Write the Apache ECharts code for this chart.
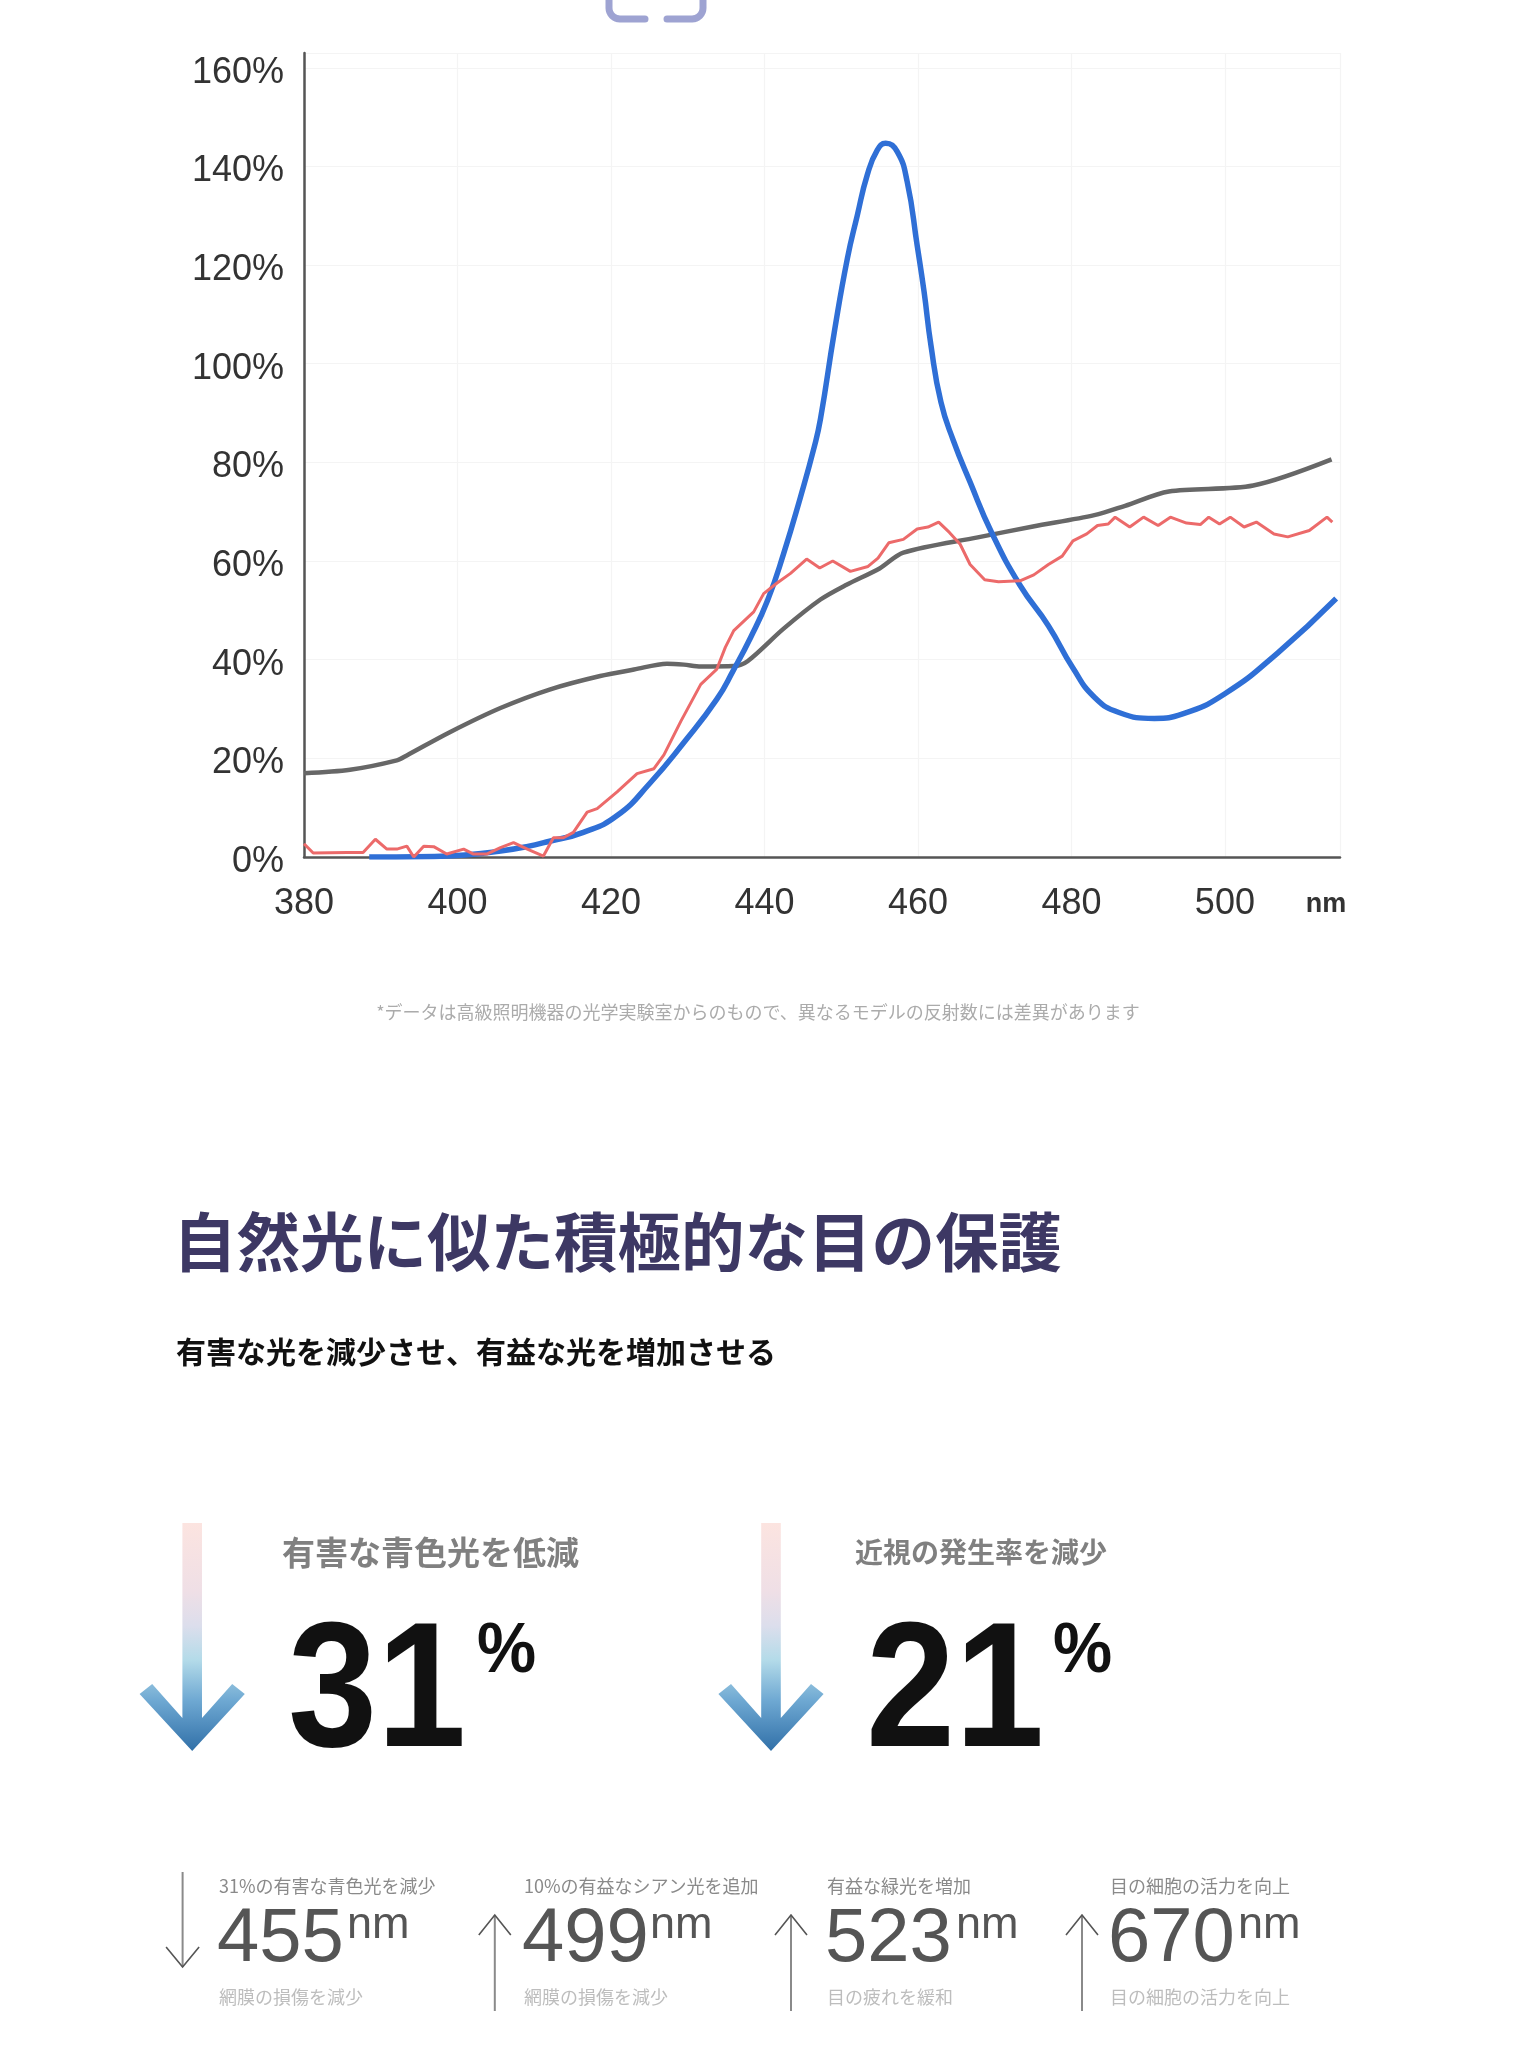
<!DOCTYPE html>
<html>
<head>
<meta charset="utf-8">
<script src="https://cdn.jsdelivr.net/npm/echarts@6/dist/echarts.min.js"></script>
<style>
html,body{margin:0;padding:0;background:#ffffff;}
#c{width:1537px;height:2048px;}
</style>
</head>
<body>
<div id="c"></div>
<script>
// ---------- data ----------
const xTicks = [380, 400, 420, 440, 460, 480, 500];
const xUnit = 'nm';
const yTicks = [0, 20, 40, 60, 80, 100, 120, 140, 160];

const blueCurve = [
  [388.5,0],[392,0],[397,0.1],[401,0.4],[405.6,1.2],[409,2.1],[412,3.2],[416.4,5],[420.8,8.4],
  [425.1,15],[429.5,23.2],[433.8,32],[436,38],[438.2,44.5],[440.4,52],[442.5,61.5],[444.7,73],
  [446.5,83.2],[447.3,88.8],[449.1,106.4],[450.8,121.3],[452.1,130.1],[453.4,138.3],[454.7,143.3],
  [455.8,144.7],[457.3,143],[458.6,136.9],[459.9,124],[460.8,114.6],[461.7,103.7],[463,92.2],
  [464.6,84.5],[466.8,76],[469.6,65.8],[473.3,55.1],[477,46.9],[480.2,38.3],[483,32.4],
  [486.2,29.3],[490.8,28.1],[494.5,29],[500,33.1],[506.9,41.4],[514.5,52.4]
];

const redCurve = [
  [380,2.7],[381.2,0.8],[385.6,0.9],[387.7,0.9],[389.3,3.6],[390.8,1.6],[392.1,1.6],[393.4,2.2],
  [394.3,0],[395.6,2.2],[396.9,2.1],[398.6,0.6],[400.8,1.6],[402.1,0.6],[403.8,0.6],[405.6,1.9],
  [407.3,2.9],[409.1,1.6],[411.2,0.2],[412.5,3.9],[413.8,3.9],[415.1,5],[416.9,9.1],[418.2,9.8],
  [420.8,13.2],[423.4,16.9],[425.6,17.9],[426.9,20.7],[429.1,27.5],[431.7,35],[433.8,38.1],
  [434.9,42.5],[436,45.9],[438.6,49.7],[439.9,53.4],[441.6,55.5],[443.4,57.5],[445.5,60.4],
  [447.2,58.6],[448.9,60],[451.2,57.9],[453.5,58.9],[454.8,60.6],[456.2,63.7],[458.1,64.4],
  [459.9,66.5],[461.3,66.9],[462.7,67.9],[464.1,65.8],[465.5,63.4],[466.8,59.3],[468.7,56.2],
  [470.5,55.8],[473.3,56],[475.1,57.2],[477,59.3],[478.8,61],[480.2,64.1],[482,65.5],[483.4,67.2],
  [484.8,67.5],[485.7,68.9],[487.6,66.9],[489.4,68.9],[491.3,67.2],[492.9,68.9],[495,67.7],
  [496.8,67.4],[497.9,68.9],[499.3,67.5],[500.7,68.9],[502.5,66.9],[504.1,67.9],[506.4,65.5],
  [508.2,64.9],[511,66.2],[513.3,68.9],[514,67.9]
];

const grayCurve = [
  [380,17],[386,17.7],[392.1,19.6],[393.4,20.6],[399,25.3],[405.6,30.2],[412.1,34],[418.6,36.7],
  [423,38],[427.3,39.2],[429.5,39],[431.7,38.6],[436,38.7],[437.8,39.7],[442.5,46.3],[447.3,52.2],
  [450.7,55.2],[455,58.5],[458.1,61.7],[467.8,64.8],[475,67],[483,69.3],[487,71.2],[492.7,74.1],
  [503.7,75.3],[513.9,80.6]
];

const footnote = '*データは高級照明機器の光学実験室からのもので、異なるモデルの反射数には差異があります';
const titleText = '自然光に似た積極的な目の保護';
const subtitleText = '有害な光を減少させ、有益な光を増加させる';

const bigLabels = ['有害な青色光を低減', '近視の発生率を減少'];
const bigValues = ['31', '21'];
const bigUnit = '%';

const smallTops = ['31%の有害な青色光を減少', '10%の有益なシアン光を追加', '有益な緑光を増加', '目の細胞の活力を向上'];
const smallValues = ['455', '499', '523', '670'];
const smallUnit = 'nm';
const smallBottoms = ['網膜の損傷を減少', '網膜の損傷を減少', '目の疲れを緩和', '目の細胞の活力を向上'];
const smallDirs = ['down', 'up', 'up', 'up'];

// ---------- layout / style ----------
const JP = '"Noto Sans CJK JP", sans-serif';
const LAT = '"Liberation Sans", Arial, sans-serif';

const chart = echarts.init(document.getElementById('c'), null, { renderer: 'canvas' });

const graphics = [];

// top partial icon (bottom corners of a rounded frame)
function cornerPts(cx, cy, r, a0, a1, pre, post) {
  const pts = [];
  if (pre) pts.push(pre);
  for (let k = 0; k <= 8; k++) {
    const a = a0 + (a1 - a0) * k / 8;
    pts.push([cx + r * Math.cos(a), cy + r * Math.sin(a)]);
  }
  if (post) pts.push(post);
  return pts;
}
graphics.push({
  type: 'polyline',
  shape: { points: cornerPts(620, 8, 11, Math.PI, Math.PI / 2, [609, -5], [645, 19]) },
  style: { fill: null, stroke: '#9ea3d2', lineWidth: 7, lineCap: 'round', lineJoin: 'round' }
});
graphics.push({
  type: 'polyline',
  shape: { points: cornerPts(692, 8, 11, Math.PI / 2, 0, [667, 19], [703, -5]) },
  style: { fill: null, stroke: '#9ea3d2', lineWidth: 7, lineCap: 'round', lineJoin: 'round' }
});

// footnote
graphics.push({
  type: 'text',
  style: { text: footnote, x: 758, y: 1012, fill: '#ababab', font: '18px ' + JP, textAlign: 'center', textVerticalAlign: 'middle' }
});
// title & subtitle
graphics.push({
  type: 'text',
  style: { text: titleText, x: 173, y: 1242, fill: '#3d3864', font: 'bold 63.5px ' + JP, textAlign: 'left', textVerticalAlign: 'middle' }
});
graphics.push({
  type: 'text',
  style: { text: subtitleText, x: 176, y: 1352, fill: '#111111', font: 'bold 30px ' + JP, textAlign: 'left', textVerticalAlign: 'middle' }
});

// big stats
const bigArrowX = [192.2, 771];
const bigLabelX = [282, 855];
const bigLabelSize = [33, 28];
const bigValueX = [288, 866];
const bigUnitX = [477, 1053];
bigLabels.forEach((lab, i) => {
  const cx = bigArrowX[i];
  const pts = [
    [cx - 9.8, 1523], [cx + 9.8, 1523], [cx + 9.8, 1718], [cx + 40, 1684], [cx + 52.6, 1694],
    [cx, 1751], [cx - 52.6, 1694], [cx - 40, 1684], [cx - 9.8, 1718]
  ];
  graphics.push({
    type: 'polygon',
    shape: { points: pts },
    style: {
      fill: new echarts.graphic.LinearGradient(0, 0, 0, 1, [
        { offset: 0, color: '#fce4e0' },
        { offset: 0.3, color: '#efdfe6' },
        { offset: 0.45, color: '#dcdeec' },
        { offset: 0.6, color: '#b4dbe9' },
        { offset: 0.78, color: '#6ea8d2' },
        { offset: 1, color: '#3170a8' }
      ])
    }
  });
  graphics.push({
    type: 'text',
    style: { text: lab, x: bigLabelX[i], y: 1552, fill: '#808080', font: 'bold ' + bigLabelSize[i] + 'px ' + JP, textAlign: 'left', textVerticalAlign: 'middle' }
  });
  graphics.push({
    type: 'text',
    x: bigValueX[i], y: 1697, scaleX: 0.9, scaleY: 1,
    style: { text: bigValues[i], x: 0, y: 0, fill: '#111111', font: 'bold 178px ' + LAT, textAlign: 'left', textVerticalAlign: 'middle' }
  });
  graphics.push({
    type: 'text',
    x: bigUnitX[i], y: 1653, scaleX: 0.95, scaleY: 1,
    style: { text: bigUnit, x: 0, y: 0, fill: '#111111', font: 'bold 70px ' + LAT, textAlign: 'left', textVerticalAlign: 'middle' }
  });
});

// small stats
const smallArrowX = [182.6, 494.8, 791, 1082];
const smallTextX = [219, 524, 827, 1110];
const smallUnitX = [347, 650, 956, 1238];
smallValues.forEach((v, i) => {
  const ax = smallArrowX[i];
  const down = smallDirs[i] === 'down';
  const top = down ? 1872 : 1915;
  const bot = down ? 1967 : 2011;
  graphics.push({
    type: 'line',
    shape: { x1: ax, y1: top, x2: ax, y2: bot },
    style: { stroke: '#8a8a8a', lineWidth: 2 }
  });
  graphics.push({
    type: 'polyline',
    shape: { points: down ? [[ax - 16.5, 1947], [ax, 1967], [ax + 16.5, 1947]] : [[ax - 16, 1935], [ax, 1915], [ax + 16, 1935]] },
    style: { stroke: '#555555', lineWidth: 1.6, fill: null }
  });
  graphics.push({
    type: 'text',
    style: { text: smallTops[i], x: smallTextX[i], y: 1886, fill: '#8a8a8a', font: '18px ' + JP, textAlign: 'left', textVerticalAlign: 'middle' }
  });
  graphics.push({
    type: 'text',
    style: { text: v, x: smallTextX[i] - 2, y: 1940, fill: '#555555', font: '76px ' + LAT, textAlign: 'left', textVerticalAlign: 'middle' }
  });
  graphics.push({
    type: 'text',
    style: { text: smallUnit, x: smallUnitX[i], y: 1926, fill: '#555555', font: '45px ' + LAT, textAlign: 'left', textVerticalAlign: 'middle' }
  });
  graphics.push({
    type: 'text',
    style: { text: smallBottoms[i], x: smallTextX[i], y: 1997, fill: '#bdbdbd', font: '18px ' + JP, textAlign: 'left', textVerticalAlign: 'middle' }
  });
});

const option = {
  backgroundColor: '#ffffff',
  animation: false,
  grid: { left: 304, right: 197, top: 53, bottom: 1191, containLabel: false },
  xAxis: {
    type: 'value',
    min: 380,
    max: 515,
    interval: 20,
    name: xUnit,
    nameLocation: 'end',
    nameGap: -14,
    nameTextStyle: { fontSize: 27, color: '#333333', fontFamily: LAT, fontWeight: 'bold', align: 'center', verticalAlign: 'top', padding: [34, 0, 0, 0] },
    axisLine: { show: true, lineStyle: { color: '#555555', width: 2.5 } },
    axisTick: { show: false },
    axisLabel: {
      fontSize: 36, color: '#333333', fontFamily: LAT, margin: 29, showMaxLabel: false,
      formatter: v => (xTicks.indexOf(v) >= 0 ? String(v) : '')
    },
    splitLine: { show: true, lineStyle: { color: '#f4f4f4', width: 1.2 } }
  },
  yAxis: {
    type: 'value',
    min: 0,
    max: 163,
    interval: 20,
    axisLine: { show: true, lineStyle: { color: '#555555', width: 2.5 } },
    axisTick: { show: false },
    axisLabel: {
      fontSize: 36, color: '#333333', fontFamily: LAT, margin: 20, showMaxLabel: false,
      verticalAlign: 'top', lineHeight: 10,
      formatter: v => (yTicks.indexOf(v) >= 0 ? v + '%' : '')
    },
    splitLine: { show: true, lineStyle: { color: '#f4f4f4', width: 1.2 } }
  },
  series: [
    {
      name: 'gray', type: 'line', data: grayCurve, showSymbol: false, smooth: 0.3,
      lineStyle: { color: '#676767', width: 4.5 }, z: 2
    },
    {
      name: 'blue', type: 'line', data: blueCurve, showSymbol: false, smooth: 0.5,
      lineStyle: { color: '#2f6fd6', width: 5.5 }, z: 3
    },
    {
      name: 'red', type: 'line', data: redCurve, showSymbol: false, smooth: false,
      lineStyle: { color: '#ec6a6a', width: 3 }, z: 4
    }
  ],
  graphic: graphics
};

chart.setOption(option);
</script>
</body>
</html>
